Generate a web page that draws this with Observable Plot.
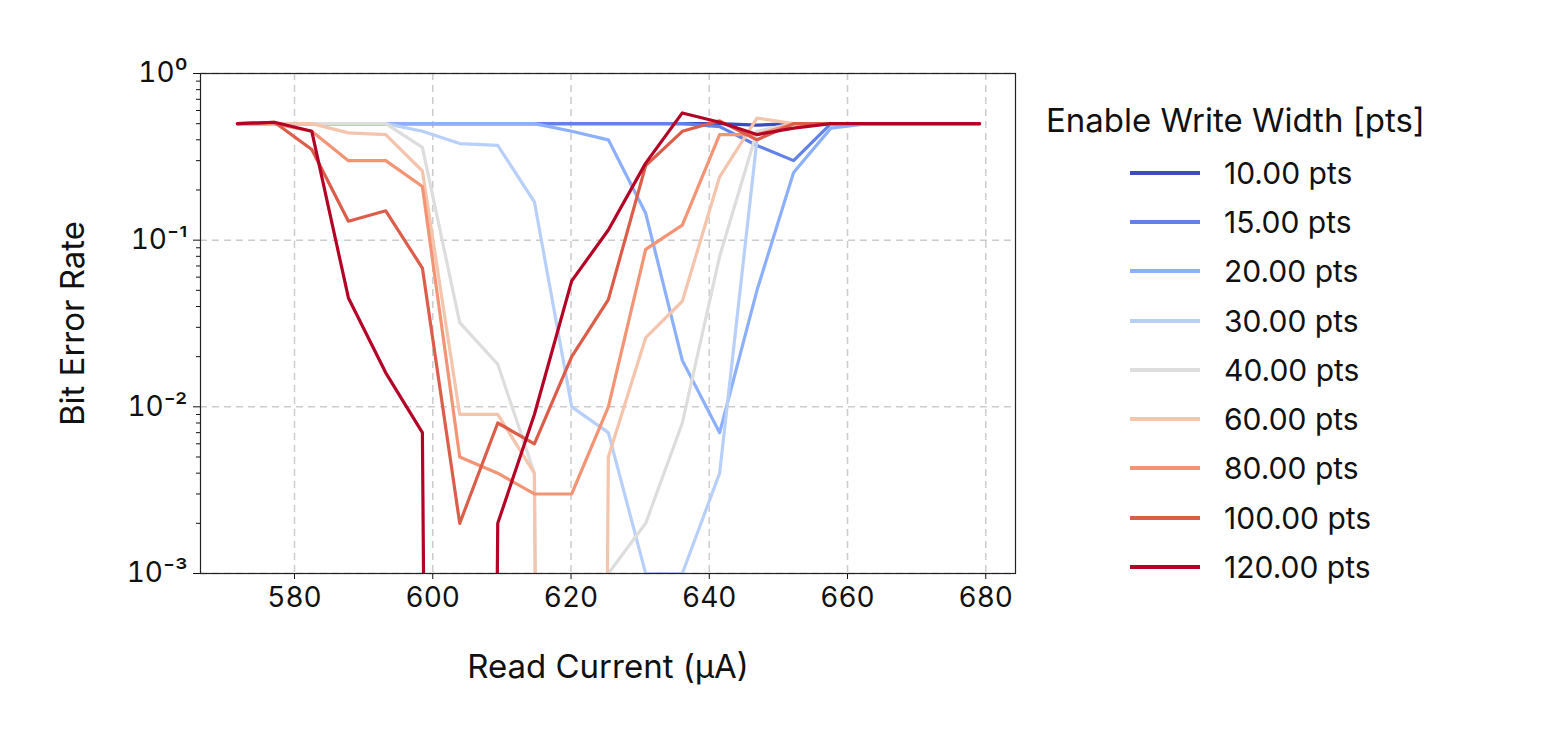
<!DOCTYPE html>
<html><head><meta charset="utf-8">
<script src="https://cdn.jsdelivr.net/npm/d3@7"></script>
<script src="https://cdn.jsdelivr.net/npm/@observablehq/plot@0.6"></script>
<style>
body{margin:0;background:#fff;font-family:Inter,sans-serif;}
#wrap{position:relative;width:1549px;height:747px;}
#grafico{position:absolute;left:0;top:0;}
#leg{position:absolute;left:1046px;top:100px;color:#111;}
#leg .row{display:flex;align-items:center;height:49.3px;margin-left:84px;font-size:30px;}
#leg .sw{width:70px;height:4px;margin-right:24px;}
</style></head>
<body><div id="wrap"><div id="grafico"></div><div id="leg"></div></div>
<script>
// read current (uA), same for every series
const corriente = [571.75,577.1,582.5,587.8,593.2,598.5,603.9,609.4,614.7,620.1,625.4,630.8,636.1,641.5,646.9,652.2,657.6,662.9,668.4,673.7,679.1]
const anchos = ['10.00 pts','15.00 pts','20.00 pts','30.00 pts','40.00 pts','60.00 pts','80.00 pts','100.00 pts','120.00 pts']
const colores = ['#3b4cc0','#6282ea','#8db0fe','#b8d0f9','#dddddd','#f5c4ac','#f39475','#dc5d4a','#b40426']
const Z = 1e-30 // BER = 0, clipped to the bottom
const ber = [
  [.5,.5,.5,.5,.5,.5,.5,.5,.5,.5,.5,.5,.5,.5,.49,.5,.5,.5,.5,.5,.5],
  [.5,.5,.5,.5,.5,.5,.5,.5,.5,.5,.5,.5,.5,.48,.37,.3,.5,.5,.5,.5,.5],
  [.5,.5,.5,.5,.5,.5,.5,.5,.5,.45,.4,.145,.019,.007,.05,.255,.47,.5,.5,.5,.5],
  [.5,.5,.5,.5,.5,.45,.38,.37,.17,.01,.007,.001,.001,.004,.4,.5,.5,.5,.5,.5,.5],
  [.5,.5,.5,.5,.5,.36,.032,.018,.004,Z,.001,.002,.008,.08,.45,.5,.5,.5,.5,.5,.5],
  [.5,.5,.5,.44,.43,.26,.009,.009,.004,Z,.005,.026,.043,.24,.54,.5,.5,.5,.5,.5,.5],
  [.5,.5,.45,.3,.3,.21,.005,.004,.003,.003,.01,.088,.123,.43,.43,.5,.5,.5,.5,.5,.5],
  [.5,.51,.35,.13,.15,.068,.002,.008,.006,.02,.044,.28,.45,.52,.4,.5,.5,.5,.5,.5,.5],
  [.5,.51,.45,.045,.016,.007,Z,.002,.009,.057,.115,.29,.58,.51,.43,.47,.5,.5,.5,.5,.5]
]
const xTicks = [580,600,620,640,660,680]
const decadas = [1e-3,1e-2,1e-1,1]
const menores = []
for (const d of [1e-3,1e-2,1e-1]) for (let k=2;k<10;k++) menores.push(d*k)

const sup = {'0':'⁰','1':'¹','2':'²','3':'³','-':'⁻'}
const fmt = v => '10' + String(Math.round(Math.log10(v))).split('').map(c=>sup[c]).join('')

let datos = []
ber.forEach((serie,i) => serie.forEach((v,j) => datos.push({ancho:anchos[i], x:corriente[j], y:v})))

const chart = Plot.plot({
  width: 1030, height: 700,
  marginLeft: 200, marginRight: 15, marginTop: 73, marginBottom: 127,
  style: {fontFamily:'Inter, sans-serif', fontSize:'28px', color:'#111', background:'#fff'},
  x: {domain:[566.4,684.3]},
  y: {type:'log', domain:[1e-3,1]},
  color: {domain:anchos, range:colores},
  marks: [
    Plot.ruleX(xTicks, {stroke:'#ccc', strokeDasharray:'7,5', strokeWidth:1.5}),
    Plot.ruleY(decadas, {stroke:'#ccc', strokeDasharray:'7,5', strokeWidth:1.5}),
    Plot.line(datos, {x:'x', y:'y', z:'ancho', stroke:'ancho', strokeWidth:3.2, clip:true}),
    Plot.axisX({ticks:xTicks, tickSize:6, tickPadding:8, label:'Read Current (μA)', labelArrow:'none', labelAnchor:'center', labelOffset:104, fontSize:28}),
    Plot.axisY({ticks:decadas, tickFormat:fmt, tickSize:7, tickPadding:6, label:'Bit Error Rate', labelArrow:'none', labelAnchor:'center', labelOffset:140, fontSize:28}),
    Plot.axisY({ticks:menores, tickFormat:()=> '', tickSize:4, label:null}),
    Plot.frame({stroke:'#222', strokeWidth:1.2})
  ]
})
d3.select('#grafico').append(() => chart)
d3.selectAll('#grafico [aria-label="x-axis label"] text, #grafico [aria-label="y-axis label"] text').style('font-size','33px')

const leg = d3.select('#leg')
leg.append('div').text('Enable Write Width [pts]').style('margin-bottom','8px').style('font-size','33px')
anchos.forEach((a,i) => {
  const r = leg.append('div').attr('class','row')
  r.append('div').attr('class','sw').style('background',colores[i])
  r.append('span').text(a)
})
</script></body></html>
